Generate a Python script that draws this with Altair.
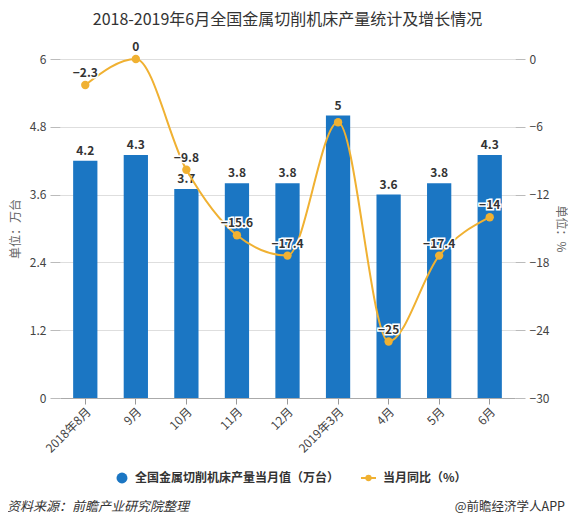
import altair as alt
import pandas as pd

months = ["2018年8月", "9月", "10月", "11月", "12月", "2019年3月", "4月", "5月", "6月"]
output = [4.2, 4.3, 3.7, 3.8, 3.8, 5.0, 3.6, 3.8, 4.3]
yoy = [-2.3, 0.0, -9.8, -15.6, -17.4, -5.6, -25.0, -17.4, -14.0]
yoy_labels = ["−2.3", "0", "−9.8", "−15.6", "−17.4", "", "−25", "−17.4", "−14"]
out_labels = ["4.2", "4.3", "3.7", "3.8", "3.8", "5", "3.6", "3.8", "4.3"]

df = pd.DataFrame({"month": months, "output": output, "yoy": yoy,
                   "yoy_label": yoy_labels, "out_label": out_labels})

FONT = "Noto Sans CJK SC"
BLUE = "#1b76c3"
ORANGE = "#f0b132"
W, H = 455, 339

xenc = alt.X("month:N", sort=months, title=None,
             scale=alt.Scale(paddingInner=0.52, paddingOuter=0.26),
             axis=alt.Axis(labelAngle=-45, labelFontSize=12, labelColor="#444",
                           labelFont=FONT, tickColor="#999", tickSize=6,
                           domainColor="#aaa", labelPadding=2, grid=False))

yleft = alt.Y("output:Q", scale=alt.Scale(domain=[0, 6]),
              axis=alt.Axis(values=[0, 1.2, 2.4, 3.6, 4.8, 6], format=".1~f",
                            title="单位：万台",
                            titleFont=FONT, titleFontSize=12, titleFontWeight="normal",
                            titleColor="#666", titleX=-45, titleY=H / 2, titleAngle=-90,
                            titleAlign="center", titleBaseline="middle",
                            labelFont=FONT, labelFontSize=12, labelColor="#444",
                            tickSize=10, tickColor="#bbb", labelPadding=4,
                            domain=False, grid=True, gridColor="#dedede"))

yright = alt.Y("yoy:Q", scale=alt.Scale(domain=[-30, 0]),
               axis=alt.Axis(values=[0, -6, -12, -18, -24, -30], format="~f",
                             title="单位：%",
                             orient="right", titleFont=FONT, titleFontSize=12,
                             titleFontWeight="normal", titleColor="#666",
                             titleX=45, titleY=H / 2, titleAngle=90,
                             titleAlign="center", titleBaseline="middle",
                             labelFont=FONT, labelFontSize=12, labelColor="#444",
                             tickSize=10, tickColor="#bbb", labelPadding=4,
                             domain=False, grid=False))

base = alt.Chart(df)

bars = base.mark_bar(color=BLUE).encode(x=xenc, y=yleft)
bar_text = base.mark_text(dy=-10, font=FONT, fontSize=12, fontWeight="bold",
                          color="#333").encode(x=xenc, y=yleft, text="out_label:N")
left = alt.layer(bars, bar_text)

line = base.mark_line(color=ORANGE, strokeWidth=2, interpolate="monotone").encode(x=xenc, y=yright)
pts = base.mark_point(color=ORANGE, filled=True, size=70, opacity=1).encode(x=xenc, y=yright)
halo = base.mark_text(dy=-12, font=FONT, fontSize=12, fontWeight="bold", color="white",
                      stroke="white", strokeWidth=3).encode(x=xenc, y=yright, text="yoy_label:N")
ltext = base.mark_text(dy=-12, font=FONT, fontSize=12, fontWeight="bold",
                       color="#333").encode(x=xenc, y=yright, text="yoy_label:N")
right = alt.layer(line, pts, halo, ltext)

one = alt.Chart(alt.Data(values=[{"a": 1}]))
title = one.mark_text(font=FONT, fontSize=16, color="#333", align="center",
                      baseline="middle").encode(
    x=alt.value(W / 2), y=alt.value(-39), text=alt.value("2018-2019年6月全国金属切削机床产量统计及增长情况"))
leg_dot = one.mark_point(filled=True, color=BLUE, size=120, opacity=1).encode(
    x=alt.value(62), y=alt.value(419))
leg_t1 = one.mark_text(font=FONT, fontSize=12, fontWeight="bold", color="#333", align="left",
                       baseline="middle").encode(
    x=alt.value(75), y=alt.value(419), text=alt.value("全国金属切削机床产量当月值（万台）"))
leg_line = one.mark_rule(color=ORANGE, strokeWidth=2).encode(
    x=alt.value(301), x2=alt.value(316), y=alt.value(419))
leg_pt = one.mark_point(filled=True, color=ORANGE, size=40, opacity=1).encode(
    x=alt.value(308.5), y=alt.value(419))
leg_t2 = one.mark_text(font=FONT, fontSize=12, fontWeight="bold", color="#333", align="left",
                       baseline="middle").encode(
    x=alt.value(323), y=alt.value(419), text=alt.value("当月同比（%）"))
src = one.mark_text(font=FONT, fontSize=13, fontStyle="italic", color="#333", align="left",
                    baseline="middle").encode(
    x=alt.value(-53), y=alt.value(448), text=alt.value("资料来源：前瞻产业研究院整理"))
brand = one.mark_text(font=FONT, fontSize=12.5, color="#333", align="right",
                      baseline="middle").encode(
    x=alt.value(505), y=alt.value(448), text=alt.value("@前瞻经济学人APP"))

chart = alt.layer(left, right, title, leg_dot, leg_t1, leg_line, leg_pt, leg_t2, src, brand
                  ).resolve_scale(y="independent").properties(
    width=W, height=H,
    autosize=alt.AutoSizeParams(type="none"),
    padding={"left": 52, "top": 51, "right": 53, "bottom": 125},
).configure_view(stroke=None)

chart.save("out.html", embed_options={"renderer": "svg", "actions": False})
